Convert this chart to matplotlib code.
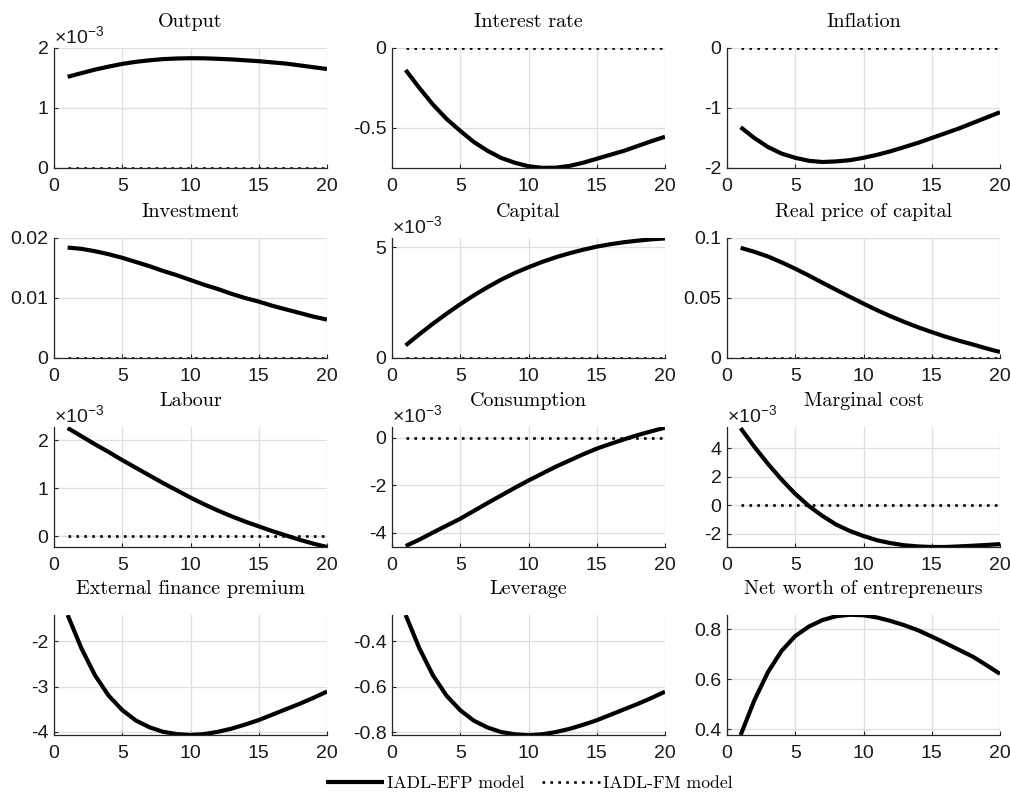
import matplotlib
matplotlib.use("Agg")
import matplotlib.pyplot as plt
import numpy as np

plt.rcParams['font.family'] = 'Liberation Sans'
plt.rcParams['axes.unicode_minus'] = False
plt.rcParams['mathtext.fontset'] = 'custom'
plt.rcParams['mathtext.rm'] = 'Liberation Sans'
plt.rcParams['mathtext.it'] = 'Liberation Sans'

# horizon (quarters)
x = np.arange(1, 21)

# IADL-EFP model responses (values in the units shown on the axis; *_e3 means x10^-3)
output_e3 = [1.52, 1.58, 1.64, 1.69, 1.735, 1.77, 1.795, 1.815, 1.825, 1.83,
             1.828, 1.82, 1.81, 1.795, 1.78, 1.76, 1.74, 1.71, 1.68, 1.65]
interest = [-0.138, -0.25, -0.355, -0.445, -0.52, -0.59, -0.645, -0.69, -0.72, -0.742,
            -0.752, -0.751, -0.74, -0.72, -0.695, -0.67, -0.645, -0.615, -0.585, -0.557]
inflation = [-1.32, -1.5, -1.65, -1.76, -1.83, -1.88, -1.9, -1.89, -1.87, -1.83,
             -1.78, -1.72, -1.65, -1.58, -1.5, -1.42, -1.34, -1.25, -1.16, -1.07]
investment = [0.0184, 0.0182, 0.0178, 0.0173, 0.0167, 0.0160, 0.0153, 0.0145, 0.0138, 0.0130,
              0.0122, 0.0115, 0.0107, 0.0100, 0.0094, 0.0087, 0.0081, 0.0075, 0.0069, 0.0064]
capital_e3 = [0.57, 1.07, 1.55, 2.0, 2.43, 2.83, 3.2, 3.54, 3.84, 4.1,
              4.34, 4.55, 4.73, 4.89, 5.03, 5.14, 5.23, 5.3, 5.36, 5.4]
price_capital = [0.0918, 0.0885, 0.0846, 0.0797, 0.0744, 0.0687, 0.0627, 0.0568, 0.0510, 0.0453,
                 0.0398, 0.0347, 0.0300, 0.0256, 0.0216, 0.0178, 0.0144, 0.0113, 0.0080, 0.0050]
labour_e3 = [2.26, 2.09, 1.92, 1.76, 1.59, 1.43, 1.27, 1.11, 0.96, 0.81,
             0.67, 0.54, 0.42, 0.31, 0.21, 0.11, 0.02, -0.07, -0.15, -0.22]
consumption_e3 = [-4.56, -4.29, -3.99, -3.7, -3.41, -3.08, -2.75, -2.43, -2.11, -1.8,
                  -1.51, -1.22, -0.96, -0.7, -0.46, -0.26, -0.07, 0.11, 0.27, 0.42]
marg_cost_e3 = [5.4, 4.1, 2.9, 1.8, 0.8, -0.05, -0.75, -1.35, -1.8, -2.15,
                -2.45, -2.65, -2.8, -2.88, -2.92, -2.92, -2.88, -2.83, -2.78, -2.72]
efp = [-1.42, -2.15, -2.75, -3.2, -3.52, -3.75, -3.9, -4.0, -4.05, -4.07,
       -4.05, -4.0, -3.93, -3.84, -3.74, -3.62, -3.5, -3.38, -3.25, -3.11]
leverage = [-0.284, -0.43, -0.55, -0.64, -0.704, -0.75, -0.78, -0.80, -0.81, -0.814,
            -0.81, -0.80, -0.786, -0.768, -0.748, -0.724, -0.70, -0.676, -0.65, -0.622]
net_worth = [0.377, 0.515, 0.628, 0.713, 0.772, 0.81, 0.836, 0.851, 0.857, 0.855,
             0.846, 0.832, 0.815, 0.795, 0.77, 0.744, 0.717, 0.69, 0.656, 0.621]

# IADL-FM model: zero response everywhere
fm = np.zeros(20)

titles = ['Output', 'Interest rate', 'Inflation',
          'Investment', 'Capital', 'Real price of capital',
          'Labour', 'Consumption', 'Marginal cost',
          'External finance premium', 'Leverage', 'Net worth of entrepreneurs']
series = [output_e3, interest, inflation,
          investment, capital_e3, price_capital,
          labour_e3, consumption_e3, marg_cost_e3,
          efp, leverage, net_worth]
scaled = [True, False, False, False, True, False, True, True, True, False, False, False]
ylims = [(0, 2), (-0.753, 0), (-2, 0),
         (0, 0.02), (0, 5.42), (0, 0.1),
         (-0.22, 2.28), (-4.6, 0.45), (-2.92, 5.48),
         (-4.07, -1.42), (-0.813, -0.284), (0.377, 0.856)]
yticks = [[0, 1, 2], [-0.5, 0], [-2, -1, 0],
          [0, 0.01, 0.02], [0, 5], [0, 0.05, 0.1],
          [0, 1, 2], [-4, -2, 0], [-2, 0, 2, 4],
          [-4, -3, -2], [-0.8, -0.6, -0.4], [0.4, 0.6, 0.8]]
ytlabels = [['0', '1', '2'], ['-0.5', '0'], ['-2', '-1', '0'],
            ['0', '0.01', '0.02'], ['0', '5'], ['0', '0.05', '0.1'],
            ['0', '1', '2'], ['-4', '-2', '0'], ['-2', '0', '2', '4'],
            ['-4', '-3', '-2'], ['-0.8', '-0.6', '-0.4'], ['0.4', '0.6', '0.8']]

W, H = 1010, 800
fig = plt.figure(figsize=(10.1, 8.0), dpi=100)
lefts = [54, 392, 727]
tops = [48, 238, 427, 615]
aw, ah = 273, 120
axcol = '#262626'

for i in range(12):
    r, c = divmod(i, 3)
    ax = fig.add_axes([lefts[c] / W, 1 - (tops[r] + ah) / H, aw / W, ah / H])
    l1, = ax.plot(x, series[i], color='black', lw=3.0, solid_capstyle='butt')
    l2, = ax.plot(x, fm, color='black', lw=1.9, linestyle=(0, (1, 2.0)),
                  dash_capstyle='butt')
    ax.set_xlim(0, 20)
    ax.set_ylim(*ylims[i])
    ax.set_xticks([0, 5, 10, 15, 20])
    ax.set_yticks(yticks[i])
    ax.set_yticklabels(ytlabels[i])
    ax.grid(True, color='#dedede', lw=0.9)
    ax.set_axisbelow(True)
    for s in ['top', 'right']:
        ax.spines[s].set_visible(False)
    for s in ['left', 'bottom']:
        ax.spines[s].set_color(axcol)
        ax.spines[s].set_linewidth(0.9)
    ax.tick_params(direction='in', length=3, width=0.8, colors=axcol,
                   labelsize=14, labelcolor='#1a1a1a')
    ax.tick_params(axis='x', pad=7)
    ax.tick_params(axis='y', pad=4)
    ax.set_title(titles[i], family='cmr10', fontsize=14.5, pad=15)
    if scaled[i]:
        ax.text(0.0, 1.01, r'$\times10^{-3}$', transform=ax.transAxes,
                fontsize=14, color='#1a1a1a', ha='left', va='bottom')

fig.legend([l1, l2], ['IADL-EFP model', 'IADL-FM model'], loc='center',
           bbox_to_anchor=(0.524, 1 - 783 / H), ncol=2, frameon=False,
           prop={'family': 'cmr10', 'size': 12.7}, handlelength=3.3,
           handletextpad=0.15, columnspacing=1.0)

fig.savefig('out.png', dpi=100)
